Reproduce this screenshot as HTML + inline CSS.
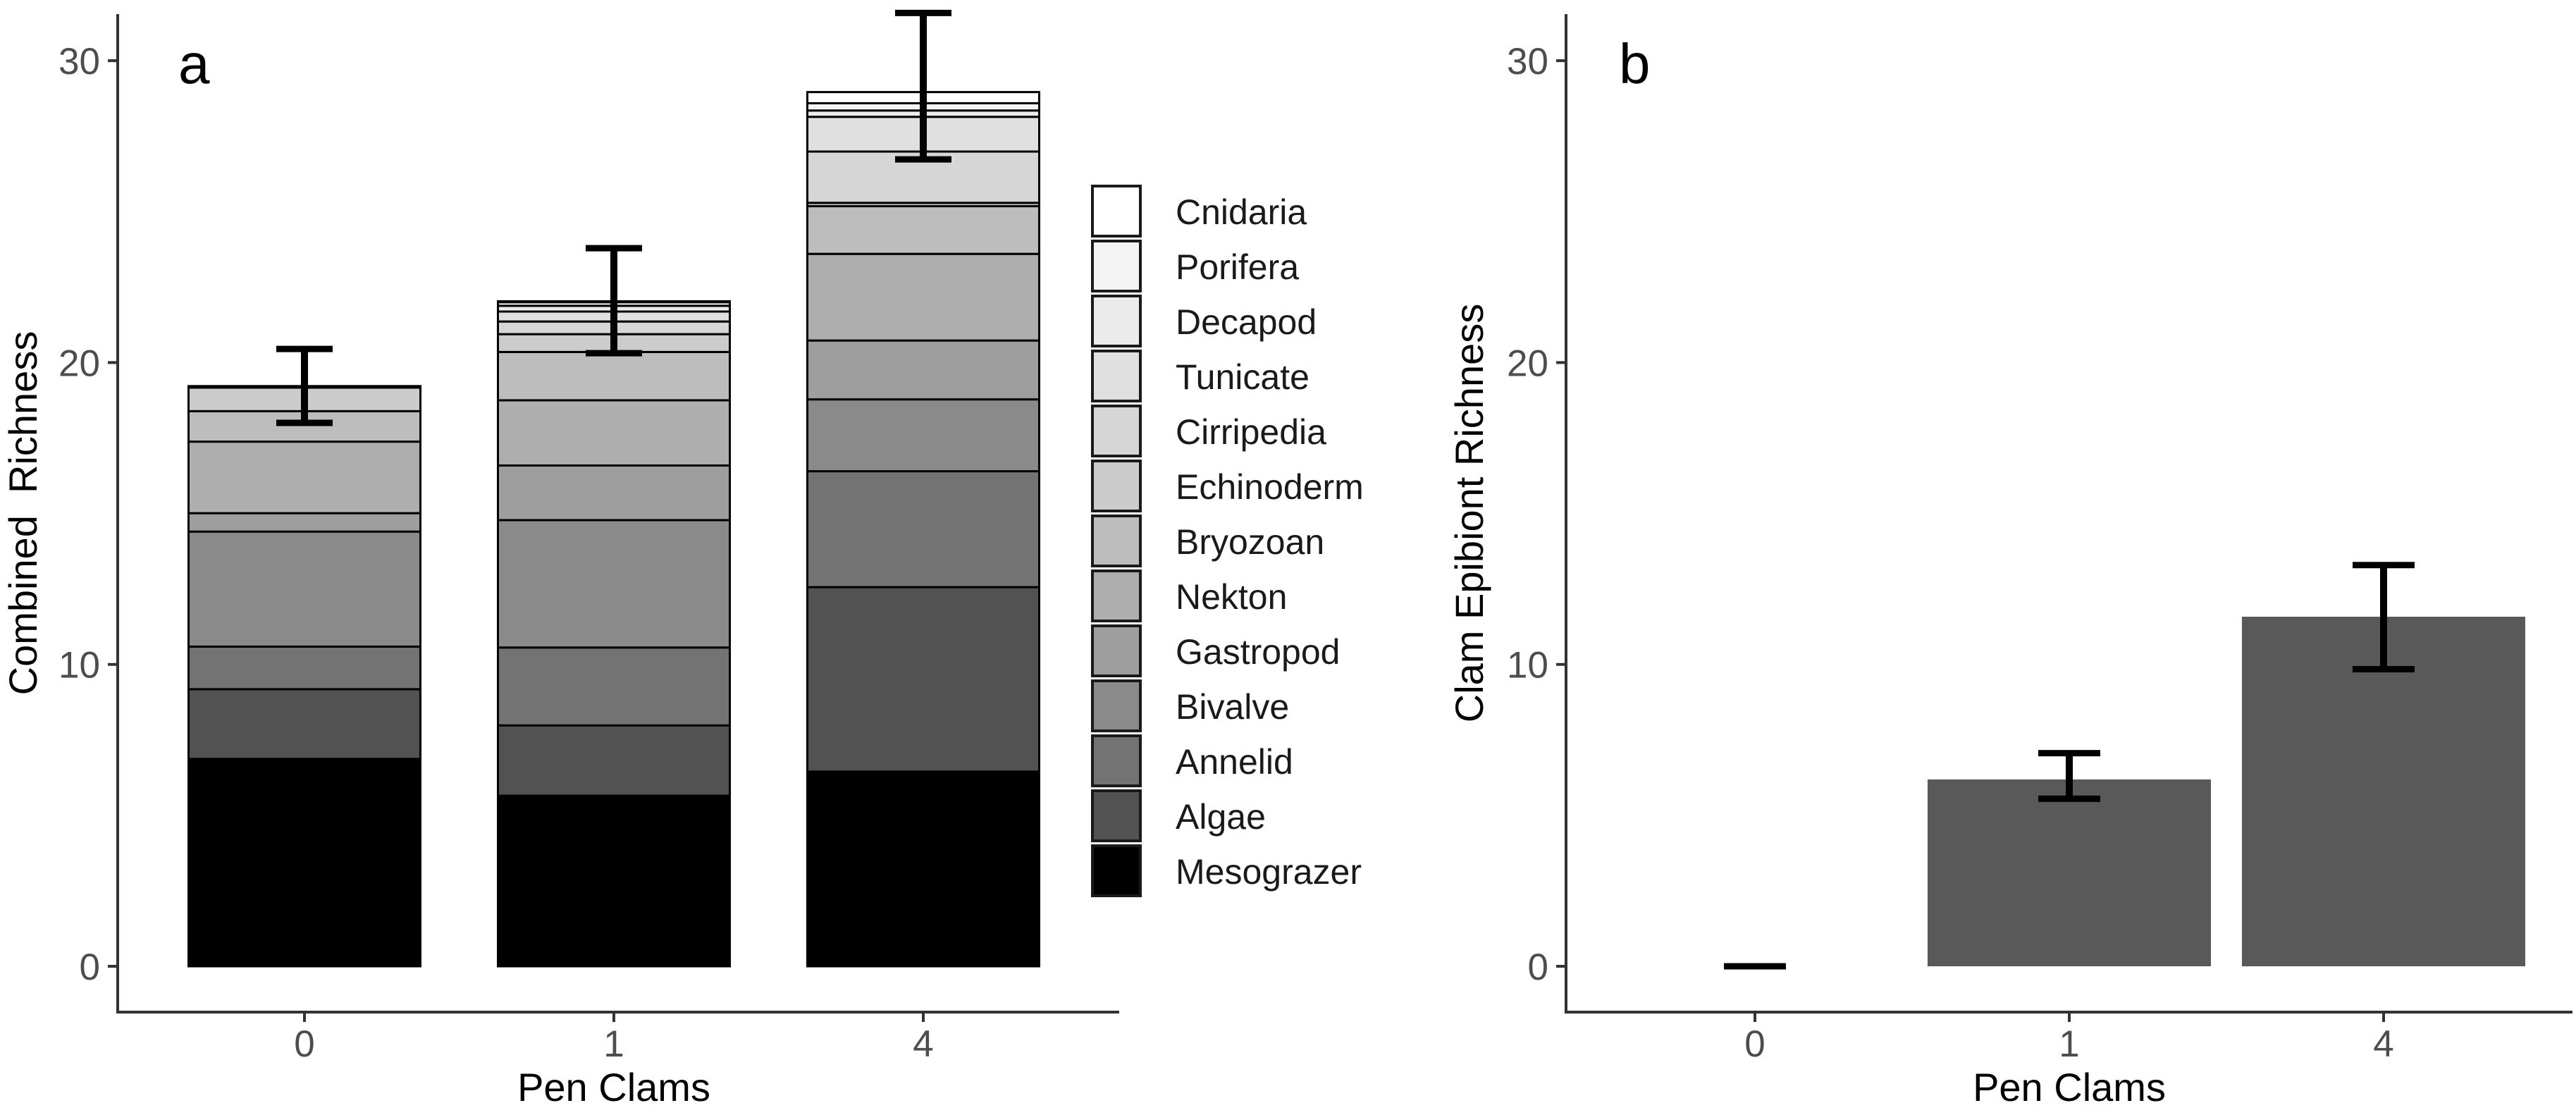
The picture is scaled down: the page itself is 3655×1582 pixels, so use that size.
<!DOCTYPE html>
<html><head><meta charset="utf-8"><style>
html,body{margin:0;padding:0;background:#fff;}
svg{display:block;font-family:"Liberation Sans",Arial,sans-serif;}
</style></head><body>
<svg id="chart" width="3655" height="1582" viewBox="0 0 3655 1582" xmlns="http://www.w3.org/2000/svg"></svg>
<script>
// ---- data ----
const categories = ["0","1","4"];
const groups = ["Mesograzer","Algae","Annelid","Bivalve","Gastropod","Nekton","Bryozoan","Echinoderm","Cirripedia","Tunicate","Decapod","Porifera","Cnidaria"];
const groupColors = ["#000000","#525252","#737373","#8a8a8a","#9e9e9e","#aeaeae","#bdbdbd","#cccccc","#d6d6d6","#e0e0e0","#ebebeb","#f4f4f4","#ffffff"];
const stack0 = [6.87,2.31,1.41,3.81,0.61,2.37,1.01,0.78,0.05,0,0,0,0];
const stack1 = [5.65,2.33,2.58,4.22,1.81,2.16,1.60,0.59,0.42,0.33,0.19,0.12,0.03];
const stack4 = [6.45,6.11,3.84,2.38,1.95,2.87,1.58,0.11,1.70,1.15,0.21,0.24,0.37];
const combinedErrLow = [18.0,20.31,26.73];
const combinedErrHigh = [20.45,23.79,31.58];
const epiValues = [0,6.19,11.58];
const epiErrLow = [0,5.55,9.84];
const epiErrHigh = [0,7.06,13.29];
const yTicks = [0,10,20,30];

const NS="http://www.w3.org/2000/svg";
const svg=document.getElementById('chart');
function mk(tag,attrs,parent){const e=document.createElementNS(NS,tag);for(const k in attrs)e.setAttribute(k,attrs[k]);(parent||svg).appendChild(e);return e;}
function txt(s,attrs,parent){const e=mk('text',attrs,parent);e.textContent=s;return e;}

const y0px=1371, perUnit=42.83;
function yScale(v){return y0px-v*perUnit;}

function panel(opts){
  const g=mk('g',{});
  
  
  function xScale(i){return opts.x0+i*opts.step;}
  // axes
  const ax=mk('line',{x1:opts.axX,y1:20,x2:opts.axX,y2:1438,stroke:'#333',"stroke-width":4},g);
  
  
  const bx=mk('line',{x1:opts.axX-2,y1:1436,x2:opts.axEnd,y2:1436,stroke:'#333',"stroke-width":4},g);
  
  
  yTicks.forEach(t=>{
    const tl=mk('line',{x1:opts.axX-14,x2:opts.axX,y1:yScale(t),y2:yScale(t),stroke:'#333',"stroke-width":4},g);
    
    
    const lb=txt(String(t),{x:opts.axX-25,y:yScale(t)+19,"text-anchor":"end","font-size":53,fill:'#4d4d4d'},g);
    
    
  });
  categories.forEach((c,i)=>{
    const tl=mk('line',{x1:xScale(i),x2:xScale(i),y1:1436,y2:1450,stroke:'#333',"stroke-width":4},g);
    
    
    const lb=txt(c,{x:xScale(i),y:1499,"text-anchor":"middle","font-size":53,fill:'#4d4d4d'},g);
    
    
  });
  const xt=txt('Pen Clams',{x:xScale(1),y:1562,"text-anchor":"middle","font-size":56,fill:'#000'},g);
  
  
  const yt=txt(opts.ytitle,{x:0,y:0,"text-anchor":"middle","font-size":56,fill:'#000',transform:`translate(${opts.ytX},${728}) rotate(-90)`,"xml:space":"preserve"},g);
  yt.style.whiteSpace='pre';
  
  
  const pl=txt(opts.letter,{x:opts.letterX,y:118,"font-size":80,fill:'#000'},g);
  
  
  return {g,xScale};
}

// Panel a
const A=panel({name:'panel-a',x0:432,step:439,axX:167,axEnd:1588,ytX:52,ytitle:'Combined  Richness',letter:'a',letterX:253});
const stacks=[stack0,stack1,stack4];
const bwA=329;
stacks.forEach((st,i)=>{
  let cum=0;
  const cx=A.xScale(i);
  st.forEach((v,k)=>{
    const yb=yScale(cum), yt=yScale(cum+v);
    cum+=v;
    const r=mk('rect',{x:cx-bwA/2,y:yt,width:bwA,height:Math.max(0,yb-yt),fill:groupColors[k],stroke:'#000',"stroke-width":3},A.g);
    
    
  });
});
function errbar(g,cx,lo,hi,cap,name){
  const e=mk('g',{},g);
  
  
  mk('line',{x1:cx,x2:cx,y1:yScale(hi),y2:yScale(lo),stroke:'#000',"stroke-width":10},e);
  mk('line',{x1:cx-cap/2,x2:cx+cap/2,y1:yScale(hi),y2:yScale(hi),stroke:'#000',"stroke-width":9},e);
  mk('line',{x1:cx-cap/2,x2:cx+cap/2,y1:yScale(lo),y2:yScale(lo),stroke:'#000',"stroke-width":9},e);
}
categories.forEach((c,i)=>errbar(A.g,A.xScale(i),combinedErrLow[i],combinedErrHigh[i],80,'error-bar-'+c));

// Legend
const lg=mk('g',{});


const legendOrder=groups.slice().reverse();
legendOrder.forEach((name,j)=>{
  const k=groups.indexOf(name);
  const y=262+j*78;
  const ent=mk('g',{},lg);
  
  
  mk('rect',{x:1550,y:y+2,width:68,height:71,fill:groupColors[k],stroke:'#1a1a1a',"stroke-width":4},ent);
  txt(name,{x:1668,y:y+56,"font-size":50,fill:'#1a1a1a'},ent);
});

// Panel b
const B=panel({name:'panel-b',x0:2490,step:446,axX:2222,axEnd:3650,ytX:2104,ytitle:'Clam Epibiont Richness',letter:'b',letterX:2297});
const bwB=402;
categories.forEach((c,i)=>{
  const v=epiValues[i];
  const r=mk('rect',{x:B.xScale(i)-bwB/2,y:yScale(v),width:bwB,height:yScale(0)-yScale(v),fill:'#595959'},B.g);
  
  
  errbar(B.g,B.xScale(i),epiErrLow[i],epiErrHigh[i],88,'epibiont-error-bar-'+c);
});
</script>
</body></html>
